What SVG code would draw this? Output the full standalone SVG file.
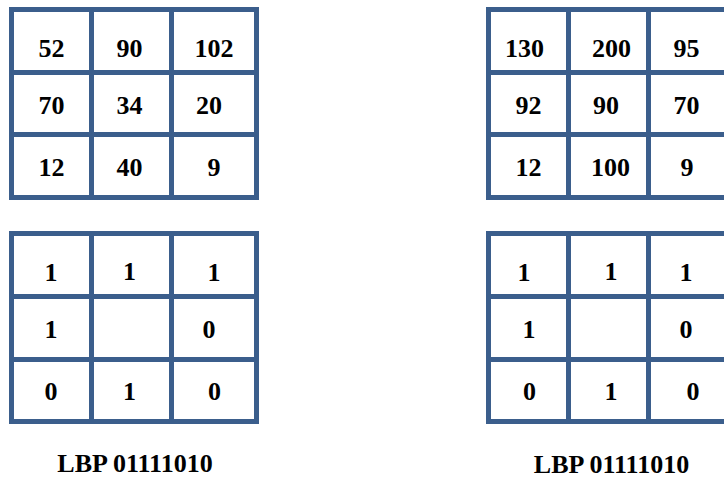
<svg xmlns="http://www.w3.org/2000/svg" width="724" height="479" viewBox="0 0 724 479">
<style>
.g{fill:none;stroke:#3B5E8C;stroke-width:5}
.t{font-family:"Liberation Serif","Times New Roman",serif;font-weight:bold;font-size:26px;fill:#000;text-anchor:middle}
</style>
<rect width="724" height="479" fill="#fff"/>
<g id="grid-top-left">
<rect class="g" x="11.5" y="9.5" width="245" height="188"/>
<path class="g" d="M91.5 9.5V197.5M171.5 9.5V197.5M11.5 72.5H256.5M11.5 134.5H256.5"/>
<text class="t" x="51.5" y="57">52</text>
<text class="t" x="129.5" y="57">90</text>
<text class="t" x="214" y="57">102</text>
<text class="t" x="51.5" y="114">70</text>
<text class="t" x="129.5" y="114">34</text>
<text class="t" x="209" y="114">20</text>
<text class="t" x="51.5" y="176">12</text>
<text class="t" x="129.5" y="176">40</text>
<text class="t" x="214" y="176">9</text>
</g>
<g id="grid-top-right">
<rect class="g" x="488.5" y="9.5" width="245" height="188"/>
<path class="g" d="M568.5 9.5V197.5M648.5 9.5V197.5M488.5 72.5H733.5M488.5 134.5H733.5"/>
<text class="t" x="524.5" y="57">130</text>
<text class="t" x="611.5" y="57">200</text>
<text class="t" x="686.5" y="57">95</text>
<text class="t" x="528.5" y="114">92</text>
<text class="t" x="606" y="114">90</text>
<text class="t" x="686.5" y="114">70</text>
<text class="t" x="528.5" y="176">12</text>
<text class="t" x="610.5" y="176">100</text>
<text class="t" x="687" y="176">9</text>
</g>
<g id="grid-bottom-left">
<rect class="g" x="11.5" y="233.5" width="245" height="188"/>
<path class="g" d="M91.5 233.5V421.5M171.5 233.5V421.5M11.5 296.5H256.5M11.5 359.5H256.5"/>
<text class="t" x="51" y="281">1</text>
<text class="t" x="129.5" y="280">1</text>
<text class="t" x="214" y="281">1</text>
<text class="t" x="51" y="338">1</text>
<text class="t" x="209" y="338">0</text>
<text class="t" x="51" y="400">0</text>
<text class="t" x="129.5" y="400">1</text>
<text class="t" x="214.5" y="400">0</text>
</g>
<g id="grid-bottom-right">
<rect class="g" x="488.5" y="233.5" width="245" height="188"/>
<path class="g" d="M568.5 233.5V421.5M648.5 233.5V421.5M488.5 296.5H733.5M488.5 359.5H733.5"/>
<text class="t" x="524" y="281">1</text>
<text class="t" x="611" y="280">1</text>
<text class="t" x="686" y="281">1</text>
<text class="t" x="529" y="338">1</text>
<text class="t" x="686" y="338">0</text>
<text class="t" x="529.5" y="400">0</text>
<text class="t" x="611" y="400">1</text>
<text class="t" x="693" y="400">0</text>
</g>
<g id="labels">
<text class="t" x="135" y="472">LBP 01111010</text>
<text class="t" x="611.5" y="473">LBP 01111010</text>
</g>
<g id="connectors"/>
</svg>
